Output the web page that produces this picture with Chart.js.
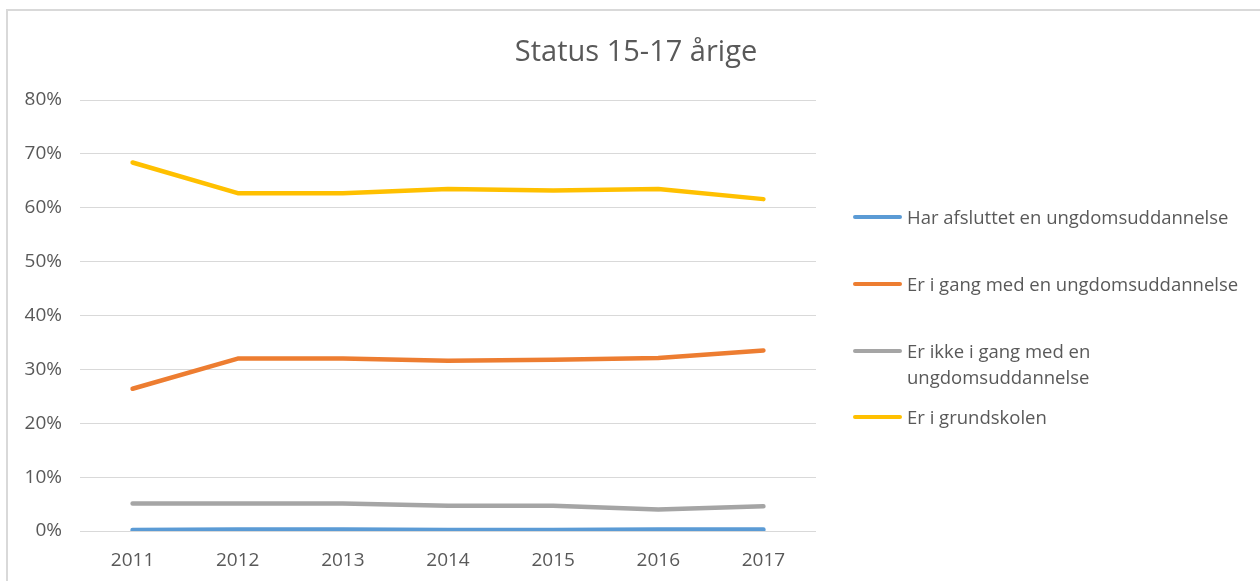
<!DOCTYPE html>
<html>
<head>
<meta charset="utf-8">
<script src="https://cdn.jsdelivr.net/npm/chart.js@4"></script>
<style>
  html, body { margin: 0; padding: 0; background: #fff; overflow: hidden; }
  #wrap { position: relative; width: 1260px; height: 581px; }
  #frame { position: absolute; left: 6px; top: 9px; width: 1300px; height: 620px; border: 2px solid #d9d9d9; box-sizing: border-box; }
  #chartBox { position: absolute; left: 0; top: 0; width: 1260px; height: 581px; }
  #title { position: absolute; left: 436px; width: 400px; top: 31px; text-align: center; font-family: "Open Sans", sans-serif; font-size: 29px; line-height: 38px; color: #595959; }
  #legend { position: absolute; left: 853px; top: 0; font-family: "Open Sans", sans-serif; font-size: 18.5px; color: #595959; }
  .item { position: absolute; left: 0; display: flex; align-items: flex-start; white-space: nowrap; line-height: 26px; }
  .item .sw { width: 49px; height: 4px; border-radius: 2px; margin-top: 11px; margin-right: 5px; flex: none; }
</style>
</head>
<body>
<div id="wrap">
  <div id="frame"></div>
  <div id="chartBox"><canvas id="statusChart"></canvas></div>
  <div id="title">Status 15-17 årige</div>
  <div id="legend"></div>
</div>
<script>
    // data
    const years = ['2011', '2012', '2013', '2014', '2015', '2016', '2017'];
    const afsluttet = [0.2, 0.3, 0.3, 0.2, 0.2, 0.3, 0.3];
    const iGang = [26.4, 32.0, 32.0, 31.6, 31.8, 32.1, 33.5];
    const ikkeIGang = [5.1, 5.1, 5.1, 4.7, 4.7, 4.0, 4.6];
    const grundskole = [68.4, 62.7, 62.7, 63.5, 63.2, 63.5, 61.6];
    const yTicks = [0, 10, 20, 30, 40, 50, 60, 70, 80];

    const series = [
        { label: 'Har afsluttet en ungdomsuddannelse', data: afsluttet, color: '#5B9BD5', top: 204 },
        { label: 'Er i gang med en ungdomsuddannelse', data: iGang, color: '#ED7D31', top: 271 },
        { label: 'Er ikke i gang med en<br>ungdomsuddannelse', data: ikkeIGang, color: '#A5A5A5', top: 338 },
        { label: 'Er i grundskolen', data: grundskole, color: '#FFC000', top: 404 }
    ];

    const txt = '#595959';
    const gridCol = '#d9d9d9';

    new Chart(document.getElementById('statusChart').getContext('2d'), {
        type: 'line',
        data: {
            labels: years,
            datasets: series.map(s => ({
                label: s.label.replace('<br>', ' '),
                data: s.data,
                borderColor: s.color,
                backgroundColor: s.color,
                borderWidth: 4.5,
                borderCapStyle: 'round',
                borderJoinStyle: 'round',
                pointRadius: 0,
                tension: 0
            }))
        },
        options: {
            responsive: true,
            maintainAspectRatio: false,
            animation: false,
            layout: { padding: { left: 0, right: 444, bottom: 0, top: 100 } },
            plugins: {
                legend: { display: false },
                tooltip: { enabled: false },
                title: { display: false }
            },
            scales: {
                x: {
                    offset: true,
                    grid: { display: false, drawTicks: false },
                    border: { display: false },
                    ticks: { color: txt, font: { family: 'Open Sans', size: 19 }, padding: 18, maxRotation: 0 },
                    afterFit: s => { s.height = 50; }
                },
                y: {
                    min: 0,
                    max: 80,
                    afterBuildTicks: s => { s.ticks = yTicks.map(v => ({ value: v })); },
                    grid: { color: gridCol, lineWidth: 1, drawTicks: false },
                    border: { display: false },
                    ticks: { color: txt, font: { family: 'Open Sans', size: 19 }, padding: 18, callback: v => v + '%' },
                    afterFit: s => { s.width = 80; }
                }
            }
        }
    });

    // legend like the excel one
    const legend = document.getElementById('legend');
    series.forEach(s => {
        const div = document.createElement('div');
        div.className = 'item';
        div.style.top = s.top + 'px';
        div.innerHTML = `<span class="sw" style="background:${s.color}"></span><span>${s.label}</span>`;
        legend.appendChild(div);
    });
</script>
</body>
</html>
